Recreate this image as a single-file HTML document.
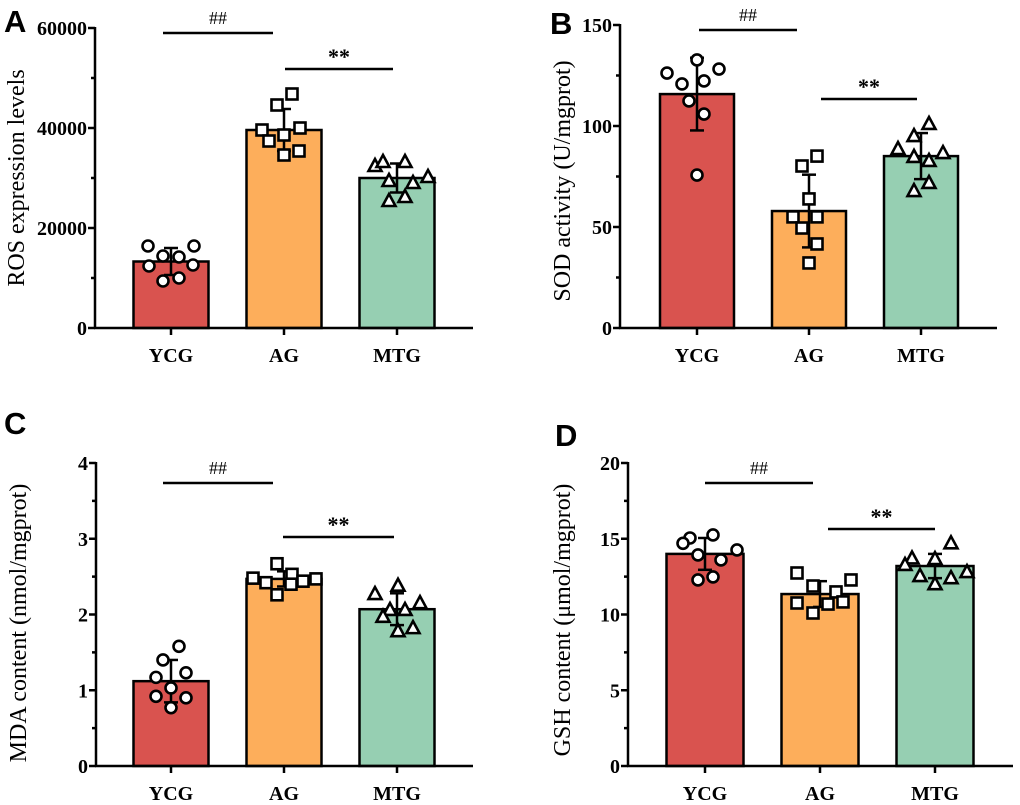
<!DOCTYPE html>
<html><head><meta charset="utf-8"><style>
html,body{margin:0;padding:0;background:#fff;width:1020px;height:805px;overflow:hidden}
svg{display:block}
</style></head><body>
<svg id="fig" width="1020" height="805" xmlns="http://www.w3.org/2000/svg"></svg>
<script>
const categories = ["YCG","AG","MTG"];
const rosMeans = [13300, 39600, 30000];
const rosSD = [2700, 4200, 2900];
const rosPoints = [[16400,16400,14400,14200,12400,12600,9400,10000],[46800,44600,39600,40000,38600,37400,35400,34600],[32400,33200,33200,29400,29000,30200,25400,26200]];
const rosTicks = [0,20000,40000,60000];
const sodMeans = [115.8, 57.9, 85.1];
const sodSD = [18, 18, 11.4];
const sodPoints = [[132.7,126.2,128.2,120.8,122.3,112.4,105.9,75.7],[85.1,80.2,63.9,55,55,49.5,41.6,32.2],[101,95,88.6,86.6,84.7,82.7,71.8,67.8]];
const sodTicks = [0,50,100,150];
const mdaMeans = [1.12, 2.47, 2.07];
const mdaSD = [0.28, 0.1, 0.21];
const mdaPoints = [[1.58,1.40,1.17,1.23,1.03,0.92,0.90,0.77],[2.67,2.48,2.53,2.47,2.42,2.44,2.40,2.26],[2.38,2.27,2.15,2.06,2.06,1.97,1.82,1.78]];
const mdaTicks = [0,1,2,3,4];
const gshMeans = [14.0, 11.35, 13.2];
const gshSD = [1.05, 0.85, 0.8];
const gshPoints = [[15.05,15.25,14.7,14.26,13.93,13.6,12.28,12.48],[12.74,11.88,12.28,11.49,10.76,10.69,10.83,10.1],[14.7,13.7,13.66,13.27,12.8,12.54,12.4,12.0]];
const gshTicks = [0,5,10,15,20];

const NS="http://www.w3.org/2000/svg";
const svg=document.getElementById('fig');
const colors=["#d9534f","#fdae5b","#96cfb2"];
const jitA=[[-23,23,-8,8,-22,22,-8,8],[8,-7,-22,16,0,-15,15,0],[-22,-14,8,-8,16,31,-8,8]];
const jitB=[[0,-30,22,-15,7,-8,7,0],[8,-7,0,-16,8,-7,8,0],[8,-7,-23,22,-7,8,8,-7]];
const jitC=[[8,-8,-15,15,0,-15,15,0],[-7,-31,8,32,-18,19,7,-7],[1,-22,23,-7,8,-14,16,1]];
const jitD=[[-15,8,-22,32,-7,16,-7,8],[-23,-7,31,16,-23,8,23,-7],[16,-23,0,-30,32,-15,16,0]];
function mk(tag,attrs,parent){const e=document.createElementNS(NS,tag);for(const k in attrs)e.setAttribute(k,attrs[k]);(parent||svg).appendChild(e);return e;}

function panel(p){
  const g=mk('g',{});
  
  
  const y=v=>p.y0-(v-p.min)/(p.max-p.min)*(p.y0-p.yTop);
  const L=mk('text',{x:p.letter[0],y:p.letter[1],'font-family':'Liberation Sans, sans-serif','font-weight':'bold','font-size':31},g);
  L.textContent=p.letterText;
  
  
  const t=mk('text',{x:p.ytitle[0],y:p.ytitle[1],'font-family':'Liberation Serif, serif','font-size':24,'text-anchor':'middle',transform:`rotate(-90 ${p.ytitle[0]} ${p.ytitle[1]})`},g);
  t.textContent=p.ytitleText;
  
  
  p.means.forEach((m,i)=>{
    const cx=p.cx[i];
    const b=mk('rect',{x:cx-p.bw/2,y:y(m),width:p.bw,height:p.y0-y(m),fill:colors[i],stroke:'#000','stroke-width':2.5},g);
    
    
  });
  p.means.forEach((m,i)=>{
    const cx=p.cx[i];const hi=y(m+p.sd[i]),lo=y(m-p.sd[i]);
    const eg=mk('g',{stroke:'#000','stroke-width':2.5},g);
    
    
    mk('line',{x1:cx,x2:cx,y1:hi,y2:lo},eg);
    mk('line',{x1:cx-7,x2:cx+7,y1:hi,y2:hi},eg);
    mk('line',{x1:cx-7,x2:cx+7,y1:lo,y2:lo},eg);
  });
  p.points.forEach((arr,i)=>{
    arr.forEach((v,j)=>{
      const px=p.cx[i]+p.jit[i][j], py=y(v);
      let e;
      if(i===0) e=mk('circle',{cx:px,cy:py,r:5.5,fill:'#fff',stroke:'#000','stroke-width':2.6},g);
      else if(i===1) e=mk('rect',{x:px-5.5,y:py-5.5,width:11,height:11,fill:'#fff',stroke:'#000','stroke-width':2.6},g);
      else e=mk('polygon',{points:`${px},${py-7} ${px-6.5},${py+5} ${px+6.5},${py+5}`,fill:'#fff',stroke:'#000','stroke-width':2.6},g);
      
      
    });
  });
  const ax=mk('g',{stroke:'#000','stroke-width':2.5},g);
  
  
  mk('line',{x1:p.ax,x2:p.ax,y1:p.yTop-1,y2:p.y0+1},ax);
  mk('line',{x1:p.ax-1,x2:p.xEnd,y1:p.y0,y2:p.y0},ax);
  p.ticks.forEach((v,k)=>{
    mk('line',{x1:p.ax-7,x2:p.ax,y1:y(v),y2:y(v)},ax);
    if(k<p.ticks.length-1){const mv=(v+p.ticks[k+1])/2;mk('line',{x1:p.ax-4,x2:p.ax,y1:y(mv),y2:y(mv)},ax);}
    const tl=mk('text',{x:p.ax-8,y:y(v)+7,'text-anchor':'end','font-family':'Liberation Serif, serif','font-weight':'bold','font-size':20,stroke:'none'},g);
    tl.textContent=v;
    
    
  });
  categories.forEach((c,i)=>{
    mk('line',{x1:p.cx[i],x2:p.cx[i],y1:p.y0,y2:p.y0+7},ax);
    const cl=mk('text',{x:p.cx[i],y:p.y0+34,'text-anchor':'middle','font-family':'Liberation Serif, serif','font-weight':'bold','font-size':20},g);
    cl.textContent=c;
    
    
  });
  p.sig.forEach((s,k)=>{
    const sg=mk('g',{},g);
    
    
    mk('line',{x1:s[0],x2:s[1],y1:s[2],y2:s[2],stroke:'#000','stroke-width':2.5},sg);
    const st=mk('text',{x:(s[0]+s[1])/2,y:s[2]-(k===0?9:5),'text-anchor':'middle','font-family':'Liberation Serif, serif','font-size':k===0?18:22,'font-weight':k===0?'normal':'bold'},sg);
    st.textContent=k===0?'##':'**';
  });
}

panel({name:'panel-a-ros',letterText:'A',letter:[4,32],ytitle:[24,178],ytitleText:'ROS expression levels',min:0,max:60000,y0:328,yTop:28,ax:95,xEnd:473,cx:[171,284,397],bw:75,jit:jitA,means:rosMeans,sd:rosSD,points:rosPoints,ticks:rosTicks,sig:[[163,273,33],[285,393,69]]});
panel({name:'panel-b-sod',letterText:'B',letter:[550,34],ytitle:[570,181],ytitleText:'SOD activity (U/mgprot)',min:0,max:150,y0:328,yTop:25,ax:620,xEnd:997,cx:[697,809,921],bw:74,jit:jitB,means:sodMeans,sd:sodSD,points:sodPoints,ticks:sodTicks,sig:[[699,797,30],[821,917,99]]});
panel({name:'panel-c-mda',letterText:'C',letter:[4,434],ytitle:[26,623],ytitleText:'MDA content (nmol/mgprot)',min:0,max:4,y0:766,yTop:463,ax:96,xEnd:473,cx:[171,284,397],bw:75,jit:jitC,means:mdaMeans,sd:mdaSD,points:mdaPoints,ticks:mdaTicks,sig:[[163,273,483],[283,394,537]]});
panel({name:'panel-d-gsh',letterText:'D',letter:[555,446],ytitle:[570,620],ytitleText:'GSH content (μmol/mgprot)',min:0,max:20,y0:766,yTop:463,ax:628,xEnd:1013,cx:[705,820,935],bw:77,jit:jitD,means:gshMeans,sd:gshSD,points:gshPoints,ticks:gshTicks,sig:[[705,813,483],[828,935,529]]});
</script>
</body></html>
